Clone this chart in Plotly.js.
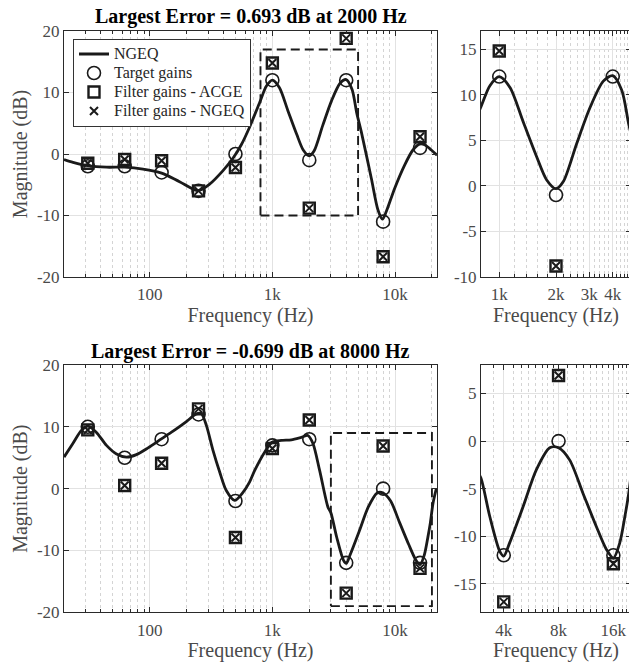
<!DOCTYPE html>
<html><head><meta charset="utf-8">
<script src="https://cdn.plot.ly/plotly-3.0.1.min.js"></script>
<style>
html,body{margin:0;padding:0;overflow:hidden;background:#fff}
#chart{width:632px;height:662px}
#chart text{font-family:"Liberation Serif","Times New Roman",serif !important}
</style>
</head><body><div id="chart"></div>
<script>
// ---- data ----
const bandFreqs = [31.25, 62.5, 125, 250, 500, 1000, 2000, 4000, 8000, 16000];

const targetTop   = [-2, -2, -3, -6, 0, 12, -1, 12, -11, 1];
const acgeTop     = [-1.5, -0.9, -1.1, -6, -2.2, 14.8, -8.8, 18.8, -16.7, 2.8];
const ngeqGainTop = [-1.5, -0.9, -1.1, -6, -2.2, 14.8, -8.8, 18.8, -16.7, 2.8];

const targetBot   = [10, 5, 8, 12, -2, 7, 8, -12, 0, -12];
const acgeBot     = [9.5, 0.5, 4.1, 12.9, -7.9, 6.5, 11.1, -16.9, 6.9, -12.9];
const ngeqGainBot = [9.5, 0.5, 4.1, 12.9, -7.9, 6.5, 11.1, -16.9, 6.9, -12.9];

const respFreqTop = [20, 23.7, 31.4, 44.4, 62.5, 88, 125, 175, 248, 308, 396, 477, 558, 653, 800, 892, 1000, 1140, 1341, 1579, 1785, 2000, 2187, 2576, 3031, 3565, 4000, 4466, 4883, 5313, 6409, 7264, 7900, 8490, 9930, 11980, 14000, 15860, 17430, 19760, 22000];
const respMagTop  = [-0.9, -1.35, -1.9, -2.15, -2.15, -2.45, -3.1, -4.5, -5.95, -4.9, -2.7, -0.7, 1.5, 4.4, 8.7, 11.0, 12.0, 10.8, 7.0, 3.2, 0.65, -0.31, 0.47, 4.65, 8.6, 11.5, 12.1, 10.5, 6.6, 3.6, -3.95, -9.1, -10.6, -9.35, -5.6, -1.8, 0.65, 1.6, 1.5, 0.65, -0.2];

const respFreqBot = [20, 23.7, 27.7, 31.4, 36.8, 44.4, 53.6, 64.6, 77.9, 96.9, 124.5, 155, 199, 240, 264, 290, 328, 372, 421, 493, 576, 653, 718, 865, 994, 1183, 1428, 1722, 1950, 2143, 2429, 2840, 3000, 3350, 3804, 4000, 4309, 5107, 6046, 7155, 8000, 9216, 10905, 12915, 14660, 16000, 17350, 18560, 19430, 20400, 21720];
const respMagBot  = [5.1, 7.35, 9.4, 10.1, 9.1, 7.0, 5.6, 5.1, 5.5, 6.6, 8.05, 9.3, 10.85, 12.1, 12.1, 10.2, 6.2, 2.7, -0.3, -1.9, -0.6, 1.1, 2.95, 5.9, 7.5, 7.8, 7.9, 8.3, 8.6, 7.3, 2.95, -3.0, -3.9, -7.9, -11.6, -12.1, -10.7, -6.9, -3.0, -0.7, -0.7, -2.0, -5.5, -9.0, -11.4, -12.3, -10.7, -7.8, -5.5, -2.4, 0];

const zoomTopX = [800, 5000], zoomTopY = [-10, 17];
const zoomBotX = [3000, 20000], zoomBotY = [-19, 9];
const zoomBotRangeY = [-18, 8];

const titleTop = 'Largest Error = 0.693 dB at 2000 Hz';
const titleBot = 'Largest Error = -0.699 dB at 8000 Hz';
const legendNames = ['NGEQ', 'Target gains', 'Filter gains - ACGE', 'Filter gains - NGEQ'];

const mainTickVals = [100, 1000, 10000], mainTickText = ['100', '1k', '10k'];
const zTopTickVals = [1000, 2000, 3000, 4000], zTopTickText = ['1k', '2k', '3k', '4k'];
const zBotTickVals = [4000, 8000, 16000], zBotTickText = ['4k', '8k', '16k'];
const magTicksMain = [-20, -10, 0, 10, 20];
const magTicksZTop = [-10, -5, 0, 5, 10, 15];
const magTicksZBot = [-15, -10, -5, 0, 5];

// ---- helpers ----
const SERIF = 'Liberation Serif';
const INK = '#1a1a1a';
const GRAYTXT = '#4a4a4a';
const W = 632, H = 662;
const px = v => v / W, py = v => 1 - v / H;
const legName = s => '<span style="font-size:16px">' + s + '</span>';

function decadeMinors(lo, hi) {
  const out = [];
  for (let d = 1; d <= 1e4; d *= 10) for (let k = 2; k <= 9; k++) { const v = k * d; if (v >= lo && v <= hi) out.push(v); }
  return out;
}
function stepMinors(lo, hi, step) { const out = []; for (let v = lo; v <= hi + 1e-6; v += step) out.push(v); return out; }

function boxX(r) { return [r[0], r[1], r[1], r[0], r[0]]; }
function boxY(r) { return [r[0], r[0], r[1], r[1], r[0]]; }

function series(xa, ya, tgt, acge, ngeq, fr, mag, legend) {
  return [
    {x: fr, y: mag, xaxis: xa, yaxis: ya, type: 'scatter', mode: 'lines', name: legName(legendNames[0]), showlegend: legend,
     line: {color: INK, width: 2.8, shape: 'spline', smoothing: 0.8}},
    {x: bandFreqs, y: tgt, xaxis: xa, yaxis: ya, type: 'scatter', mode: 'markers', name: legName(legendNames[1]), showlegend: legend,
     marker: {symbol: 'circle-open', size: 13, color: INK, line: {width: 1.6, color: INK}}},
    {x: bandFreqs, y: acge, xaxis: xa, yaxis: ya, type: 'scatter', mode: 'markers', name: legName(legendNames[2]), showlegend: legend,
     marker: {symbol: 'square-open', size: 11, color: INK, line: {width: 2.4, color: INK}}},
    {x: bandFreqs, y: ngeq, xaxis: xa, yaxis: ya, type: 'scatter', mode: 'markers', name: legName(legendNames[3]), showlegend: legend,
     marker: {symbol: 'x-thin-open', size: 8, color: INK, line: {width: 2, color: INK}}}
  ];
}
function dashedBox(xa, ya, rx, ry) {
  return {x: boxX(rx), y: boxY(ry), xaxis: xa, yaxis: ya, type: 'scatter', mode: 'lines', showlegend: false,
          line: {color: INK, width: 1.9, dash: '9px,5px'}};
}

const data = [].concat(
  series('x', 'y', targetTop, acgeTop, ngeqGainTop, respFreqTop, respMagTop, true),
  [dashedBox('x', 'y', zoomTopX, zoomTopY)],
  series('x2', 'y2', targetTop, acgeTop, ngeqGainTop, respFreqTop, respMagTop, false),
  series('x3', 'y3', targetBot, acgeBot, ngeqGainBot, respFreqBot, respMagBot, false),
  [dashedBox('x3', 'y3', zoomBotX, zoomBotY)],
  series('x4', 'y4', targetBot, acgeBot, ngeqGainBot, respFreqBot, respMagBot, false)
);

const base = {showline: true, linecolor: '#2a2a2a', linewidth: 1, mirror: 'ticks', ticks: 'inside', ticklen: 5,
  tickcolor: '#2a2a2a', showgrid: true, gridcolor: '#e2e2e2', gridwidth: 1, zeroline: false, fixedrange: true};

function xax(domain, anchor, range, tv, tt, minors) {
  return Object.assign({}, base, {type: 'log', domain, anchor, range: range.map(Math.log10), tickmode: 'array', tickvals: tv, ticktext: tt,
    tickfont: {family: SERIF, size: 17, color: GRAYTXT}, ticklabelstandoff: 2,
    title: {text: 'Frequency (Hz)', font: {family: SERIF, size: 20, color: GRAYTXT}, standoff: 2},
    minor: {tickmode: 'array', tickvals: minors, ticks: 'inside', ticklen: 3, tickcolor: '#2a2a2a', showgrid: true, gridcolor: '#d4d4d4', griddash: 'dot', gridwidth: 1}});
}
function yax(domain, anchor, range, tv, withTitle) {
  const o = Object.assign({}, base, {domain, anchor, range, tickmode: 'array', tickvals: tv, ticktext: tv.map(String),
    tickfont: {family: SERIF, size: 17, color: GRAYTXT}});
  if (withTitle) o.title = {text: 'Magnitude (dB)', font: {family: SERIF, size: 20, color: GRAYTXT}, standoff: 3};
  return o;
}

const dTopL = [px(64), px(437)], dTopR = [px(481), px(631)];
const dyTop = [py(277), py(31)], dyBot = [py(612.3), py(365)];

const layout = {
  width: W, height: H, margin: {l: 0, r: 0, t: 0, b: 0}, paper_bgcolor: '#fff', plot_bgcolor: '#fff',
  showlegend: true, hovermode: false,
  font: {family: SERIF, size: 17, color: GRAYTXT},
  xaxis: xax(dTopL, 'y', [20, 22000], mainTickVals, mainTickText, decadeMinors(20, 22000)),
  yaxis: yax(dyTop, 'x', [-20, 20], magTicksMain, true),
  xaxis2: xax(dTopR, 'y2', zoomTopX, zTopTickVals, zTopTickText, stepMinors(800, 5000, 200)),
  yaxis2: yax(dyTop, 'x2', zoomTopY, magTicksZTop, false),
  xaxis3: xax(dTopL, 'y3', [20, 22000], mainTickVals, mainTickText, decadeMinors(20, 22000)),
  yaxis3: yax(dyBot, 'x3', [-20, 20], magTicksMain, true),
  xaxis4: xax(dTopR, 'y4', zoomBotX, zBotTickVals, zBotTickText, stepMinors(3000, 8000, 500).concat(stepMinors(9000, 20000, 1000))),
  yaxis4: yax(dyBot, 'x4', zoomBotRangeY, magTicksZBot, false),
  legend: {x: px(73), y: py(38.5), xanchor: 'left', yanchor: 'top', bgcolor: '#fff', bordercolor: '#333', borderwidth: 1,
           font: {family: SERIF, size: 11.8, color: '#262626'}, tracegroupgap: 0, itemwidth: 30},
  annotations: [
    {text: '<b>' + titleTop + '</b>', xref: 'paper', yref: 'paper', x: px(250.5), y: py(16.3), xanchor: 'center', yanchor: 'middle',
     showarrow: false, font: {family: SERIF, size: 20, color: '#000'}},
    {text: '<b>' + titleBot + '</b>', xref: 'paper', yref: 'paper', x: px(250.5), y: py(351.3), xanchor: 'center', yanchor: 'middle',
     showarrow: false, font: {family: SERIF, size: 20, color: '#000'}}
  ]
};

Plotly.newPlot('chart', data, layout, {staticPlot: true, displayModeBar: false});
</script></body></html>
